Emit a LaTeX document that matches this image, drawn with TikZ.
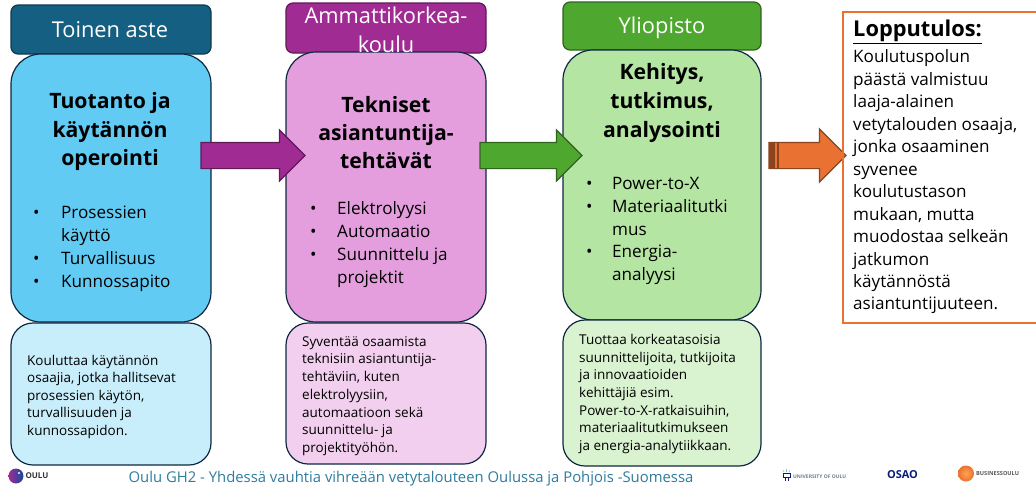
\documentclass[tikz,border=0pt]{standalone}
\usepackage{fontspec}
\setmainfont{Open Sans}
\usetikzlibrary{shapes.arrows,shadings}
\definecolor{hA}{HTML}{156082}\definecolor{mA}{HTML}{61CBF4}\definecolor{lA}{HTML}{C9EEFB}
\definecolor{hB}{HTML}{A02B93}\definecolor{mB}{HTML}{E49EDD}\definecolor{lB}{HTML}{F2CFEE}
\definecolor{hC}{HTML}{4EA72E}\definecolor{mC}{HTML}{B4E5A2}\definecolor{lC}{HTML}{D9F2D0}
\definecolor{orA}{HTML}{E97132}\definecolor{edge}{HTML}{0E2841}\definecolor{foot}{HTML}{2E7C9E}
\tikzset{
 headbox/.style={draw=#1!60!black,fill=#1,line width=1.2pt,rounded corners=7pt},
 mainbox/.style={draw=edge,fill=#1,line width=1.2pt,rounded corners=30pt},
 lowbox/.style={draw=edge,fill=#1,line width=1.2pt,rounded corners=22pt},
 headtxt/.style={text=white,align=center,inner sep=0pt,font=\fontsize{21.8}{29}\selectfont},
 titletxt/.style={align=center,inner sep=0pt,text=black,font=\fontsize{21.2}{#1}\selectfont\bfseries},
 listtxt/.style={anchor=west,align=left,inner sep=0pt,font=\fontsize{17.1}{22.7}\selectfont},
 smalltxt/.style={anchor=west,align=left,inner sep=0pt,font=\fontsize{13.5}{#1}\selectfont},
 blockarrow/.style={single arrow,draw=#1!60!black,fill=#1,line width=1.2pt,inner xsep=0pt,inner ysep=12.5pt,
   minimum width=50pt,single arrow head extend=12.5pt,single arrow tip angle=90,anchor=west,outer sep=0pt},
}
\newcommand{\rbox}[6]{\path[#1] (#3,#4) rectangle (#5,#6) node[pos=.5,inner sep=0pt,outer sep=0pt] (#2) {};}
\begin{document}
\begin{tikzpicture}[x=1pt,y=-1pt]
\useasboundingbox (0,0) rectangle (1036,488);
\fill[white] (0,0) rectangle (1036,488);
% column 1
\rbox{headbox=hA}{h1}{11}{5}{211}{54}
\rbox{mainbox=mA}{m1}{11}{54}{211}{322}
\rbox{lowbox=lA}{l1}{11}{323}{211}{465}
\node[headtxt] (ht1) at (110,29.5) {Toinen aste};
\node[titletxt=28.3] (t1) at (110,131.5) {Tuotanto ja\\käytännön\\operointi};
\node[listtxt] (b1) at (33,248.5) {\begin{tabular}{@{}p{28pt}@{}l@{}}•&Prosessien\\&käyttö\\•&Turvallisuus\\•&Kunnossapito\end{tabular}};
\node[smalltxt=17.5] (s1) at (27,396.5) {Kouluttaa käytännön\\osaajia, jotka hallitsevat\\prosessien käytön,\\turvallisuuden ja\\kunnossapidon.};
% column 2
\rbox{headbox=hB}{h2}{286}{3}{486}{53}
\rbox{mainbox=mB}{m2}{286}{52}{486}{322}
\rbox{lowbox=lB}{l2}{286}{323}{486}{464}
\node[headtxt] (ht2) at (386,29.5) {Ammattikorkea-\\koulu};
\node[titletxt=28.3] (t2) at (386,132.5) {Tekniset\\asiantuntija-\\tehtävät};
\node[listtxt] (b2) at (310,244.5) {\begin{tabular}{@{}p{27pt}@{}l@{}}•&Elektrolyysi\\•&Automaatio\\•&Suunnittelu ja\\&projektit\end{tabular}};
\node[smalltxt=17.7] (s2) at (302,396) {Syventää osaamista\\teknisiin asiantuntija-\\tehtäviin, kuten\\elektrolyysiin,\\automaatioon sekä\\suunnittelu- ja\\projektityöhön.};
% column 3
\rbox{headbox=hC}{h3}{563}{2}{761}{50}
\rbox{mainbox=mC}{m3}{563}{50}{761}{320}
\rbox{lowbox=lC}{l3}{563}{320}{761}{466}
\node[headtxt] (ht3) at (662,27.5) {Yliopisto};
\node[titletxt=29] (t3) at (662,102.5) {Kehitys,\\tutkimus,\\analysointi};
\node[listtxt] (b3) at (586,230.5) {\begin{tabular}{@{}p{26pt}@{}l@{}}•&Power-to-X\\•&Materiaalitutki\\&mus\\•&Energia-\\&analyysi\end{tabular}};
\node[smalltxt=17.7] (s3) at (579,394) {Tuottaa korkeatasoisia\\suunnittelijoita, tutkijoita\\ja innovaatioiden\\kehittäjiä esim.\\Power-to-X-ratkaisuihin,\\materiaalitutkimukseen\\ja energia-analytiikkaan.};
% arrows
\node[blockarrow=hB,minimum height=104pt] (a1) at (201,155.5) {};
\node[blockarrow=hC,minimum height=102pt] (a2) at (480,155.5) {};
\node[blockarrow=orA,minimum height=77pt,minimum width=53pt,single arrow head extend=13.5pt] (a3) at (769,155.5) {};
\fill[orA!60!black] (769,142) rectangle (779,169);
\fill[orA] (775,143) rectangle (777,168);
% result
\draw[orA,line width=1.5pt] (1036,12) -- (843,12) -- (843,323) -- (1036,323);
\node[anchor=west,inner sep=0pt,font=\fontsize{21.8}{22}\selectfont\bfseries] (rt) at (853,32) {\underline{Lopputulos:}};
\node[listtxt,font=\fontsize{17.1}{22.45}\selectfont] (r) at (853,182) {Koulutuspolun\\päästä valmistuu\\laaja-alainen\\vetytalouden osaaja,\\jonka osaaminen\\syvenee\\koulutustason\\mukaan, mutta\\muodostaa selkeän\\jatkumon\\käytännöstä\\asiantuntijuuteen.};
% footer
\node[inner sep=0pt,text=foot,font=\fontsize{14.85}{16}\selectfont] (f) at (411,479) {Oulu GH2 - Yhdessä vauhtia vihreään vetytalouteen Oulussa ja Pohjois -Suomessa};
% logos
\shade[left color=hB,right color=hA!80!blue] (16,476) circle (7.5);
\fill[white] (19,473) circle (1.2);
\node[inner sep=0pt,font=\fontsize{8}{9}\selectfont\bfseries,text=black!80] (lo1) at (37,476) {OULU};
\draw[edge!70!blue,line width=.8pt] (783,473.5) rectangle (790,477) (785,477) -- (785,481) (788,477) -- (788,481);
\draw[mA,line width=.6pt] (783,470) -- (784,472) (786.5,469) -- (786.5,472) (790,470) -- (789,472);
\node[anchor=west,inner sep=0pt,font=\fontsize{5}{6}\selectfont\bfseries,text=edge!60] (lo2) at (793,476.5) {UNIVERSITY OF OULU};
\node[inner sep=0pt,font=\fontsize{11}{12}\selectfont\bfseries,text=edge!70!blue] (lo3) at (902.5,474.5) {OSAO};
\shade[inner color=orange!70,outer color=orA] (966,473.5) circle (8);
\node[anchor=west,inner sep=0pt,font=\fontsize{5.6}{6}\selectfont\bfseries,text=black!65] (lo4) at (976,473.5) {BUSINESSOULU};
\end{tikzpicture}
\end{document}
